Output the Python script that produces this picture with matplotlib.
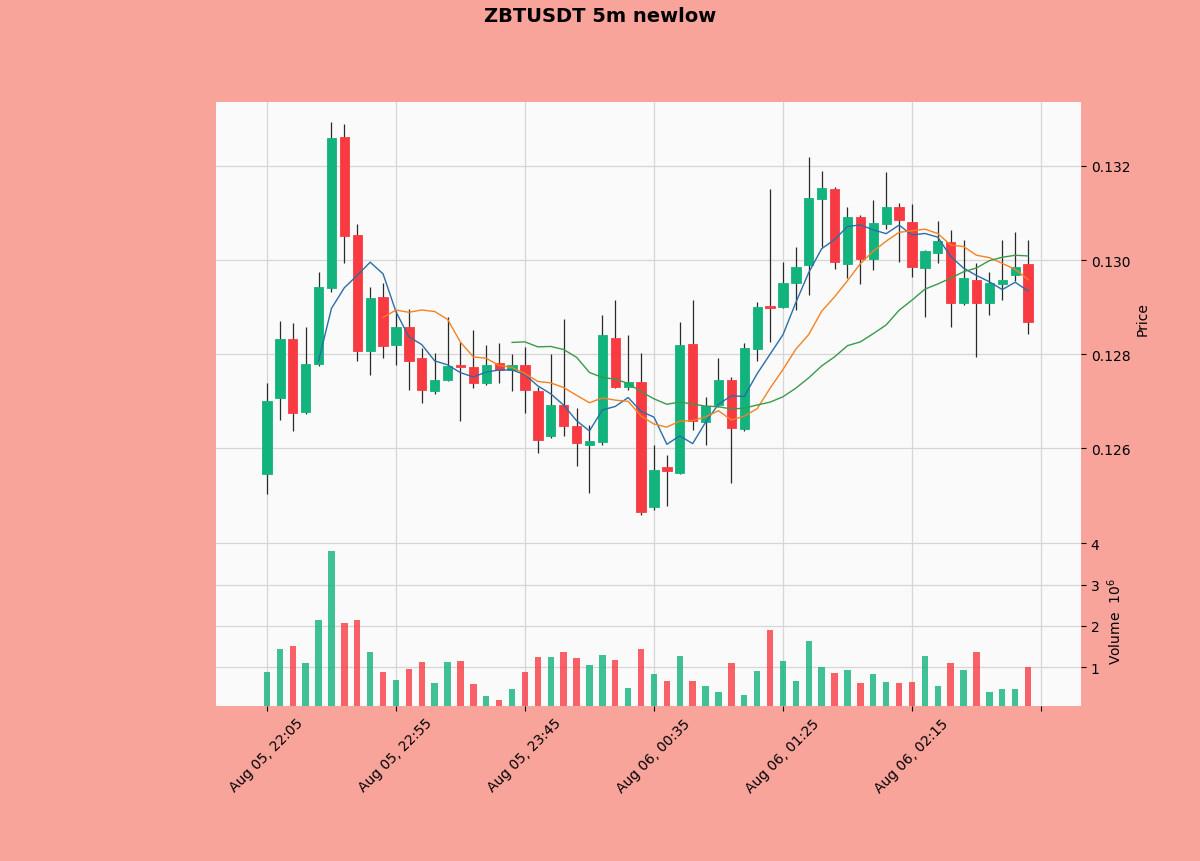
import matplotlib
matplotlib.use("Agg")
import matplotlib.pyplot as plt
import numpy as np
import pandas as pd
from matplotlib.ticker import FuncFormatter, FixedLocator

# 5m candles, ZBTUSDT
start_time = "2024-08-05 22:05"
opens = [0.12545, 0.12707, 0.12832, 0.12677, 0.12779, 0.12940, 0.13261, 0.13054, 0.12807, 0.12922,
         0.12820, 0.12859, 0.12792, 0.12721, 0.12746, 0.12778, 0.12774, 0.12739, 0.12781, 0.12767,
         0.12777, 0.12722, 0.12626, 0.12693, 0.12647, 0.12607, 0.12614, 0.12835, 0.12730, 0.12741,
         0.12476, 0.12560, 0.12548, 0.12821, 0.12656, 0.12693, 0.12746, 0.12642, 0.12811, 0.12903,
         0.12901, 0.12952, 0.12989, 0.13130, 0.13151, 0.12991, 0.13091, 0.13003, 0.13077, 0.13113,
         0.13082, 0.12983, 0.13016, 0.13039, 0.12908, 0.12957, 0.12908, 0.12950, 0.12969, 0.12991]
closes = [0.12700, 0.12832, 0.12675, 0.12779, 0.12942, 0.13259, 0.13052, 0.12806, 0.12919, 0.12818,
          0.12857, 0.12785, 0.12724, 0.12746, 0.12776, 0.12774, 0.12739, 0.12777, 0.12767, 0.12777,
          0.12724, 0.12619, 0.12693, 0.12647, 0.12612, 0.12615, 0.12842, 0.12730, 0.12742, 0.12464,
          0.12555, 0.12553, 0.12820, 0.12659, 0.12691, 0.12746, 0.12643, 0.12813, 0.12901, 0.12898,
          0.12952, 0.12986, 0.13132, 0.13153, 0.12995, 0.13091, 0.13003, 0.13079, 0.13113, 0.13086,
          0.12986, 0.13019, 0.13040, 0.12908, 0.12962, 0.12908, 0.12952, 0.12957, 0.12986, 0.12869]
highs = [0.12739, 0.12870, 0.12866, 0.12859, 0.12975, 0.13294, 0.13289, 0.13077, 0.12943, 0.12952,
         0.12891, 0.12897, 0.12813, 0.12802, 0.12880, 0.12827, 0.12851, 0.12820, 0.12823, 0.12800,
         0.12816, 0.12730, 0.12800, 0.12876, 0.12686, 0.12650, 0.12883, 0.12915, 0.12841, 0.12802,
         0.12608, 0.12587, 0.12869, 0.12915, 0.12710, 0.12792, 0.12752, 0.12823, 0.12910, 0.13151,
         0.12996, 0.13028, 0.13218, 0.13190, 0.13155, 0.13113, 0.13096, 0.13127, 0.13187, 0.13122,
         0.13120, 0.13022, 0.13084, 0.13063, 0.13042, 0.12993, 0.12975, 0.13042, 0.13060, 0.13042]
lows = [0.12504, 0.12661, 0.12638, 0.12673, 0.12775, 0.12933, 0.12993, 0.12785, 0.12756, 0.12792,
        0.12777, 0.12724, 0.12696, 0.12715, 0.12743, 0.12658, 0.12728, 0.12735, 0.12739, 0.12722,
        0.12675, 0.12590, 0.12622, 0.12626, 0.12562, 0.12506, 0.12608, 0.12728, 0.12724, 0.12458,
        0.12470, 0.12478, 0.12545, 0.12640, 0.12608, 0.12688, 0.12527, 0.12637, 0.12785, 0.12827,
        0.12898, 0.12894, 0.12925, 0.13028, 0.12982, 0.12961, 0.12950, 0.12978, 0.13067, 0.12997,
        0.12964, 0.12880, 0.12993, 0.12857, 0.12905, 0.12795, 0.12883, 0.12915, 0.12955, 0.12844]
# volume in millions
volumes = [0.89, 1.44, 1.51, 1.10, 2.15, 3.82, 2.06, 2.14, 1.36, 0.89,
           0.68, 0.96, 1.13, 0.61, 1.13, 1.15, 0.59, 0.31, 0.20, 0.47,
           0.89, 1.25, 1.25, 1.38, 1.22, 1.05, 1.30, 1.18, 0.49, 1.43,
           0.83, 0.67, 1.27, 0.67, 0.55, 0.40, 1.11, 0.32, 0.91, 1.91,
           1.15, 0.67, 1.64, 1.00, 0.85, 0.93, 0.61, 0.84, 0.64, 0.61,
           0.64, 1.26, 0.55, 1.10, 0.93, 1.36, 0.40, 0.47, 0.47, 1.01]
mav_periods = [5, 10, 20]

up_color = "#12b37c"
down_color = "#f83b43"
bg_color = "#f9a49b"
mav_colors = ["#2a6ea8", "#f58220", "#3a9a4a"]

df = pd.DataFrame({"open": opens, "high": highs, "low": lows, "close": closes, "volume": volumes},
                  index=pd.date_range(start_time, periods=len(opens), freq="5min"))
x = np.arange(len(df))
up = df["close"].values >= df["open"].values
colors = np.where(up, up_color, down_color)

fig = plt.figure(figsize=(12, 8.62), dpi=100, facecolor=bg_color)
ax = fig.add_axes([0.18, 0.3782, 0.7208, 0.5023])
axv = fig.add_axes([0.18, 0.1798, 0.7208, 0.1984], sharex=ax)

for a in (ax, axv):
    a.set_facecolor("#fafafa")
    for s in a.spines.values():
        s.set_visible(False)
    a.grid(True, color="#d6d6d6", linewidth=0.9)
    a.set_axisbelow(True)
    a.yaxis.tick_right()
    a.yaxis.set_label_position("right")

# candles
ax.vlines(x, df["low"], df["high"], color="#2a2a2a", linewidth=0.9, zorder=2)
body_lo = np.minimum(df["open"], df["close"])
body_h = np.maximum(np.abs(df["close"] - df["open"]), 0.000015)
ax.bar(x, body_h, bottom=body_lo, width=0.72, color=colors, edgecolor=colors,
       linewidth=0.6, zorder=3)

for p, c in zip(mav_periods, mav_colors):
    ax.plot(x, df["close"].rolling(p).mean(), color=c, linewidth=1.0, zorder=4)

rng = df["high"].max() - df["low"].min()
ax.set_ylim(df["low"].min() - 0.05 * rng, df["high"].max() + 0.05 * rng)
ax.set_yticks([0.126, 0.128, 0.130, 0.132])
ax.yaxis.set_major_formatter(FuncFormatter(lambda v, pos: f"{v:.3f}"))
ax.set_ylabel("Price")
ax.tick_params(axis="x", labelbottom=False, length=0)

# volume
axv.bar(x, df["volume"], width=0.5, color=colors, alpha=0.8, zorder=3)
axv.set_ylim(0.3 * df["volume"].min(), 1.1 * df["volume"].max())
axv.set_yticks([1, 2, 3, 4])
axv.set_ylabel("Volume  $10^{6}$")

axv.set_xlim(-3.95, 63.1)
axv.xaxis.set_major_locator(FixedLocator(np.arange(0, 61, 10)))
labels = [d.strftime("%b %d, %H:%M") for d in df.index]
axv.xaxis.set_major_formatter(FuncFormatter(
    lambda v, pos: labels[int(round(v))] if 0 <= int(round(v)) < len(labels) else ""))
plt.setp(axv.get_xticklabels(), rotation=45)

fig.suptitle("ZBTUSDT 5m newlow", fontweight="bold", fontsize=14, y=0.981, va="center")

fig.savefig("out.png", dpi=100, facecolor=bg_color)
